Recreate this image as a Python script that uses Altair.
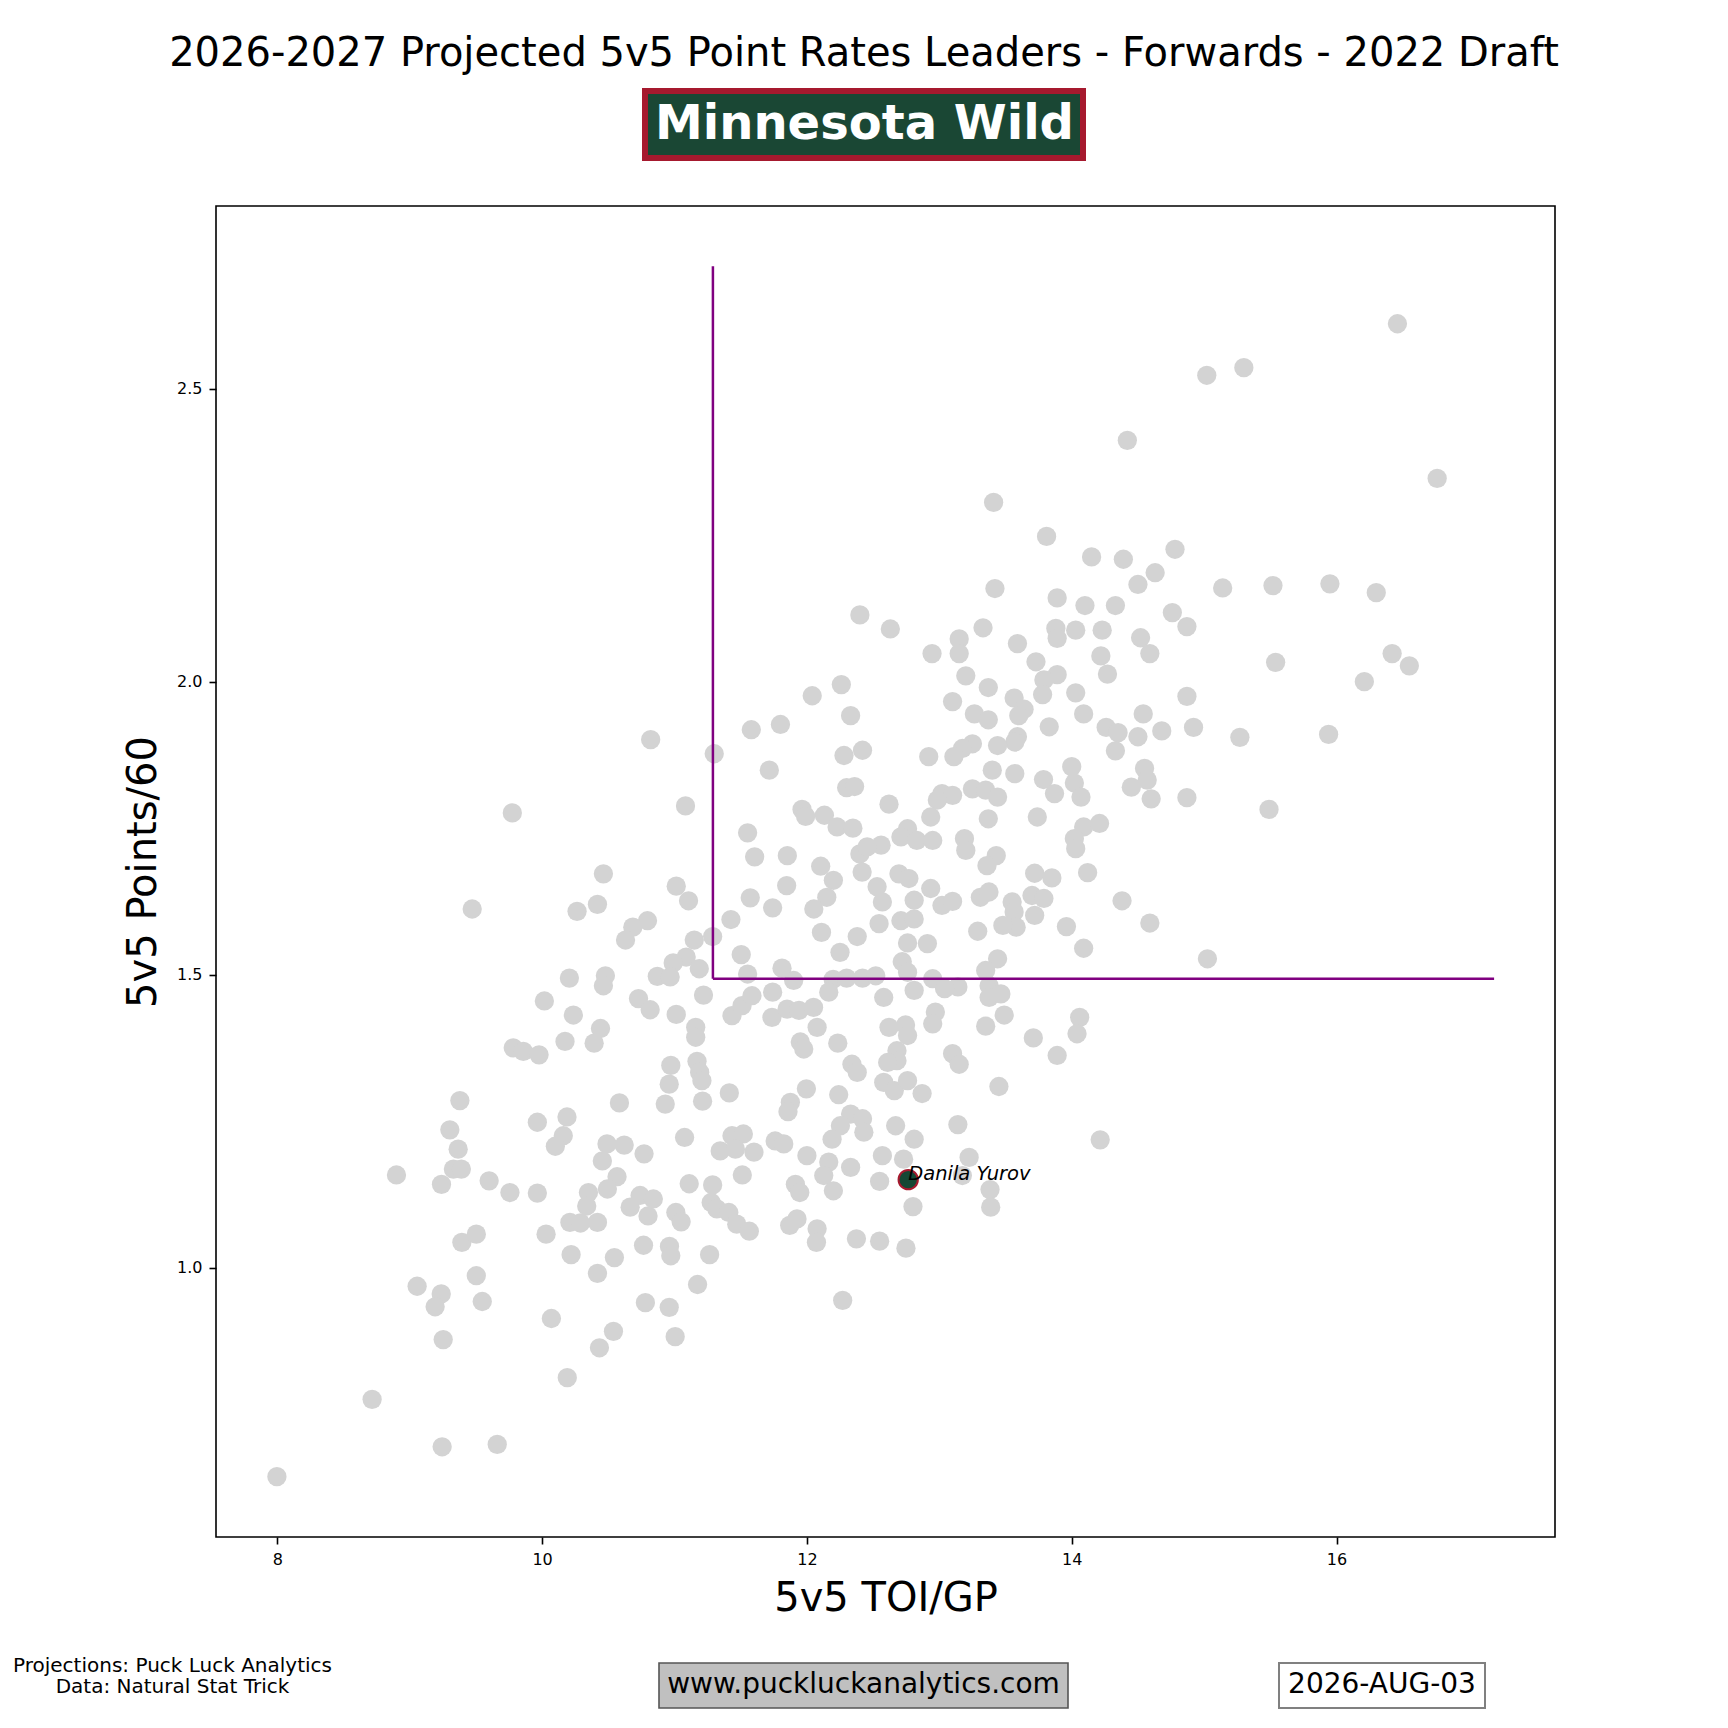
import altair as alt
import pandas as pd

# ---- data (5v5 TOI/GP, 5v5 Points/60) ----
toi_gp = [
    # upper centre
    13.41, 13.81, 13.42, 13.89, 12.40, 12.63, 12.945, 13.15, 13.15, 13.33,
    13.59, 13.73, 13.88, 13.89, 13.89, 13.79, 13.78, 13.20, 13.37, 13.10,
    13.565, 13.64, 13.60, 13.265, 13.37, 13.83, 13.59, 13.57, 13.44, 13.25,
    13.175, 13.11, 12.92, 12.42, 12.28, 12.04, 12.26, 12.33, 11.80, 11.58,
    11.30, 10.82,
    # upper right
    16.46, 15.02, 15.30, 14.42, 16.76, 14.15, 14.39, 14.78, 14.63, 14.50,
    15.14, 15.52, 15.95, 16.30, 14.10, 14.33, 14.76, 14.87, 14.03, 14.23,
    14.52, 14.59, 14.22, 14.27, 14.03, 14.09, 14.26, 14.35, 14.50, 14.54,
    14.68, 14.87, 14.92, 14.33, 15.27, 15.94, 15.54, 16.42, 16.55, 16.21,
    # middle left
    9.775, 9.472, 10.463, 10.264, 10.418, 10.796, 10.685, 10.63, 10.206, 10.478,
    10.463, 10.87, 10.017, 10.236, 10.728, 10.816, 10.441, 10.393, 10.173, 9.782,
    9.858, 9.977, 9.379, 9.964, 10.188, 10.16, 10.10, 10.584, 9.303, 9.366,
    9.33, 9.39, 8.90, 10.49, 10.455, 10.62, 10.77, 10.566,
    # middle centre-left
    11.716, 12.30, 12.36, 11.083, 11.963, 11.99, 12.132, 12.228, 12.347, 11.552,
    12.40, 12.417, 11.605, 11.852, 12.104, 12.20, 12.15, 11.847, 11.572, 11.741,
    12.052, 12.11, 12.38, 12.25, 11.426, 11.504, 11.552, 11.812, 11.90, 12.198,
    12.30, 12.42, 12.165, 11.013, 11.106, 11.149, 11.288, 11.088, 10.99, 10.967,
    11.187, 11.219, 11.013, 11.16, 11.16, 11.434, 11.51, 11.585, 11.741, 11.736,
    11.85, 11.94, 12.05, 12.077, 11.95, 11.976, 12.233, 12.34, 12.38, 10.972,
    10.96, 10.93, 11.17, 11.19, 11.207, 11.212, 11.414, 11.996, 11.875, 11.857,
    12.24, 12.33, 12.253, 12.19, 11.076, 11.434, 11.52, 11.345, 11.46, 11.60,
    11.76, 11.825, 12.0, 12.165, 12.33,
    # middle centre-right
    13.40, 13.57, 13.787, 13.87, 14.00, 14.02, 12.62, 13.02, 13.10, 12.985,
    13.25, 13.35, 13.44, 13.37, 13.74, 12.935, 12.76, 12.71, 12.83, 12.95,
    12.56, 12.455, 13.19, 13.20, 13.43, 13.36, 13.72, 13.85, 12.695, 12.77,
    12.53, 12.57, 12.935, 12.81, 13.02, 13.10, 13.31, 13.375, 13.55, 13.70,
    13.79, 13.72, 13.565, 13.58, 13.48, 13.29, 13.96, 12.545, 12.71, 12.81,
    12.76, 12.91, 12.72, 12.76, 13.44, 13.35, 12.52, 12.95, 13.14, 13.04,
    12.81, 12.58, 13.376, 13.376, 13.465, 12.97, 12.95, 13.49, 13.35, 12.62,
    12.745, 12.76, 12.68, 12.68, 12.61, 13.10, 13.15, 13.71, 13.89, 12.58,
    12.66, 12.76, 12.87, 13.45, 12.42, 12.43, 12.67, 12.81, 13.14, 12.57,
    12.73, 13.225,
    # middle right
    14.07, 14.55, 14.57, 14.45, 14.60, 14.87, 15.49, 14.09, 14.21, 14.02,
    14.03, 14.12, 14.38, 14.59, 14.09, 15.025, 14.06, 14.04, 14.215,
    # lower left
    9.24, 9.60, 9.757, 9.964, 10.35, 10.337, 10.493, 10.21, 10.29, 10.418,
    10.665, 10.74, 10.80, 10.84, 10.03, 9.394, 9.503, 10.219, 10.546, 10.418,
    10.766, 10.78, 9.503, 9.056, 9.238, 9.192, 9.548, 10.07, 9.253, 10.539,
    10.433, 10.19, 8.716, 9.245, 9.661, 7.997,
    # lower centre
    11.111, 11.288, 11.277, 11.32, 11.41, 11.47, 11.565, 11.01, 11.05, 11.512,
    10.962, 10.972, 11.265, 11.174, 10.96, 11.005, 11.87, 11.925, 12.077, 12.072,
    12.374, 12.27, 11.913, 11.946, 12.127, 12.20,
    # lower centre-right
    12.549, 13.174, 13.383, 13.388, 12.801, 12.549, 12.748,
]

points_60 = [
    # upper centre
    2.306, 2.248, 2.159, 2.143, 2.114, 2.090, 2.048, 2.073, 2.048, 2.092,
    2.065, 2.034, 2.091, 2.074, 2.012, 2.003, 1.978, 2.010, 1.990, 1.966,
    1.972, 1.953, 1.942, 1.945, 1.935, 1.923, 1.906, 1.897, 1.891, 1.894,
    1.886, 1.872, 1.872, 1.883, 1.874, 1.976, 1.995, 1.942, 1.927, 1.918,
    1.877, 1.901,
    # upper right
    2.611, 2.523, 2.536, 2.412, 2.347, 2.213, 2.209, 2.226, 2.186, 2.166,
    2.160, 2.164, 2.167, 2.152, 2.130, 2.130, 2.118, 2.094, 2.088, 2.088,
    2.075, 2.048, 2.044, 2.013, 1.981, 1.945, 1.922, 1.913, 1.906, 1.945,
    1.916, 1.975, 1.922, 1.882, 1.905, 1.910, 2.033, 2.048, 2.027, 2.000,
    # middle left
    1.776, 1.612, 1.672, 1.608, 1.620, 1.592, 1.581, 1.559, 1.494, 1.498,
    1.481, 1.497, 1.455, 1.431, 1.459, 1.440, 1.408, 1.383, 1.386, 1.375,
    1.369, 1.363, 1.285, 1.248, 1.257, 1.225, 1.207, 1.281, 1.235, 1.202,
    1.168, 1.168, 1.158, 1.211, 1.182, 1.209, 1.194, 1.155,
    # middle centre-left
    1.849, 1.819, 1.821, 1.788, 1.782, 1.770, 1.772, 1.752, 1.750, 1.742,
    1.706, 1.675, 1.701, 1.703, 1.685, 1.661, 1.632, 1.652, 1.631, 1.614,
    1.612, 1.572, 1.565, 1.538, 1.594, 1.534, 1.501, 1.511, 1.490, 1.492,
    1.494, 1.494, 1.470, 1.651, 1.626, 1.559, 1.565, 1.530, 1.520, 1.496,
    1.510, 1.465, 1.432, 1.410, 1.393, 1.430, 1.447, 1.464, 1.470, 1.427,
    1.441, 1.439, 1.444, 1.410, 1.385, 1.373, 1.383, 1.347, 1.333, 1.345,
    1.313, 1.279, 1.352, 1.333, 1.319, 1.284, 1.298, 1.305, 1.282, 1.266,
    1.295, 1.262, 1.242, 1.219, 1.222, 1.225, 1.228, 1.199, 1.202, 1.197,
    1.216, 1.211, 1.191, 1.180, 1.171,
    # middle centre-right
    1.849, 1.843, 1.833, 1.809, 1.855, 1.827, 1.791, 1.809, 1.806, 1.798,
    1.817, 1.815, 1.803, 1.766, 1.769, 1.769, 1.749, 1.735, 1.729, 1.729,
    1.721, 1.718, 1.732, 1.712, 1.703, 1.686, 1.673, 1.665, 1.672, 1.664,
    1.650, 1.624, 1.647, 1.627, 1.618, 1.625, 1.632, 1.641, 1.624, 1.635,
    1.630, 1.601, 1.607, 1.581, 1.584, 1.574, 1.582, 1.587, 1.592, 1.595,
    1.554, 1.553, 1.522, 1.504, 1.527, 1.507, 1.498, 1.493, 1.479, 1.476,
    1.473, 1.461, 1.481, 1.461, 1.467, 1.436, 1.416, 1.431, 1.412, 1.410,
    1.414, 1.396, 1.370, 1.353, 1.350, 1.365, 1.347, 1.392, 1.362, 1.316,
    1.302, 1.319, 1.297, 1.309, 1.254, 1.231, 1.242, 1.219, 1.244, 1.191,
    1.185, 1.188,
    # middle right
    1.803, 1.852, 1.832, 1.820, 1.800, 1.802, 1.782, 1.752, 1.758, 1.732,
    1.715, 1.674, 1.626, 1.588, 1.545, 1.527, 1.427, 1.399, 1.218,
    # lower left
    1.142, 1.148, 1.128, 1.127, 1.128, 1.105, 1.134, 1.077, 1.076, 1.077,
    1.103, 1.123, 1.088, 1.117, 1.057, 1.043, 1.057, 1.022, 1.017, 0.990,
    1.038, 0.940, 0.986, 0.968, 0.955, 0.933, 0.942, 0.913, 0.877, 0.891,
    0.863, 0.812, 0.775, 0.694, 0.698, 0.643,
    # lower centre
    1.143, 1.141, 1.111, 1.100, 1.094, 1.074, 1.062, 1.094, 1.078, 1.158,
    1.036, 1.020, 1.022, 0.971, 0.932, 0.882, 1.072, 1.083, 1.066, 1.043,
    1.049, 0.944, 1.142, 1.128, 1.157, 1.131,
    # lower centre-right
    1.147, 1.157, 1.133, 1.103, 1.104, 1.045, 1.033,
]

assert len(toi_gp) == len(points_60)

# highlighted player
player_name = ["Danila Yurov"]
player_toi = [12.765]
player_pts = [1.150]

# threshold lines (segments)
line_x = [11.29, 11.29]
line_y = [1.493, 1.493]
line_x2 = [11.29, 17.19]
line_y2 = [2.709, 1.493]

x_ticks = [8, 10, 12, 14, 16]
y_ticks = [1.0, 1.5, 2.0, 2.5]
x_domain = [7.537, 17.65]
y_domain = [0.540, 2.812]

title_text = "2026-2027 Projected 5v5 Point Rates Leaders - Forwards - 2022 Draft"
team_text = "Minnesota Wild"
credit_1 = "Projections: Puck Luck Analytics"
credit_2 = "Data: Natural Stat Trick"
site_text = "www.puckluckanalytics.com"
date_text = "2026-AUG-03"

FONT = "DejaVu Sans"
W, H = 1339, 1331

df = pd.DataFrame({"toi": toi_gp, "pts": points_60})
df_player = pd.DataFrame({"toi": player_toi, "pts": player_pts, "name": player_name})
df_lines = pd.DataFrame({"x": line_x, "y": line_y, "x2": line_x2, "y2": line_y2})

xs = alt.Scale(domain=x_domain, nice=False, zero=False)
ys = alt.Scale(domain=y_domain, nice=False, zero=False)

points = alt.Chart(df).mark_circle(size=372, color="#d3d3d3", opacity=1).encode(
    x=alt.X("toi:Q", scale=xs,
            axis=alt.Axis(values=x_ticks, title="5v5 TOI/GP", titlePadding=11, format="d")),
    y=alt.Y("pts:Q", scale=ys,
            axis=alt.Axis(values=y_ticks, title="5v5 Points/60", titlePadding=13, format=".1f")),
)

lines = alt.Chart(df_lines).mark_rule(color="purple", strokeWidth=2.5).encode(
    x=alt.X("x:Q", scale=xs), x2="x2:Q",
    y=alt.Y("y:Q", scale=ys), y2="y2:Q",
)

player = alt.Chart(df_player).mark_point(
    shape="circle", size=372, filled=True, fill="#154734", stroke="#A6192E",
    strokeWidth=2, opacity=1, fillOpacity=1, strokeOpacity=1,
).encode(x=alt.X("toi:Q", scale=xs), y=alt.Y("pts:Q", scale=ys))

player_label = alt.Chart(df_player).mark_text(
    align="left", baseline="alphabetic", font=FONT, fontSize=19.5,
    fontStyle="italic", color="black",
).encode(x=alt.X("toi:Q", scale=xs), y=alt.Y("pts:Q", scale=ys), text="name:N")


def one():
    return alt.Data(values=[{"k": 1}])


def text_layer(txt, x, y, size, **kw):
    return alt.Chart(one()).mark_text(
        text=txt, font=FONT, fontSize=size, align="center", baseline="alphabetic",
        color=kw.pop("color", "black"), **kw
    ).encode(x=alt.value(x), y=alt.value(y))


def box_layer(x, x2, y, y2, fill, stroke, sw):
    return alt.Chart(one()).mark_rect(fill=fill, stroke=stroke, strokeWidth=sw).encode(
        x=alt.value(x), x2=alt.value(x2), y=alt.value(y), y2=alt.value(y2)
    )


title = text_layer(title_text, 648, -140, 40)
team_box = box_layer(429, 867, -115, -48, "#1a4734", "#a6192e", 6)
team = text_layer(team_text, 648.5, -67, 48, fontWeight="bold", color="white")
credit_a = text_layer(credit_1, -43.5, 1466, 20)
credit_b = text_layer(credit_2, -43.5, 1487, 20)
site_box = box_layer(443, 852, 1457, 1502, "#c0c0c0", "#555555", 1.6)
site = text_layer(site_text, 647.5, 1487, 28)
date_box = box_layer(1063, 1269, 1457, 1502, "white", "#808080", 2)
date = text_layer(date_text, 1166, 1487, 28)

chart = alt.layer(
    points, lines, player, player_label,
    title, team_box, team, credit_a, credit_b, site_box, site, date_box, date,
).properties(
    width=W, height=H,
    padding={"left": 208, "top": 198, "right": 165, "bottom": 183},
    autosize=alt.AutoSizeParams(type="none"),
    background="white",
).configure_view(
    stroke="black", strokeWidth=1.6
).configure_axis(
    domain=False, grid=False, tickColor="black", tickWidth=1.6, tickSize=7,
    labelFont=FONT, labelFontSize=16, labelColor="black", labelPadding=7,
    titleFont=FONT, titleFontSize=40, titleFontWeight="normal", titleColor="black",
)

chart.save("out.html", embed_options={"renderer": "svg", "actions": False})
